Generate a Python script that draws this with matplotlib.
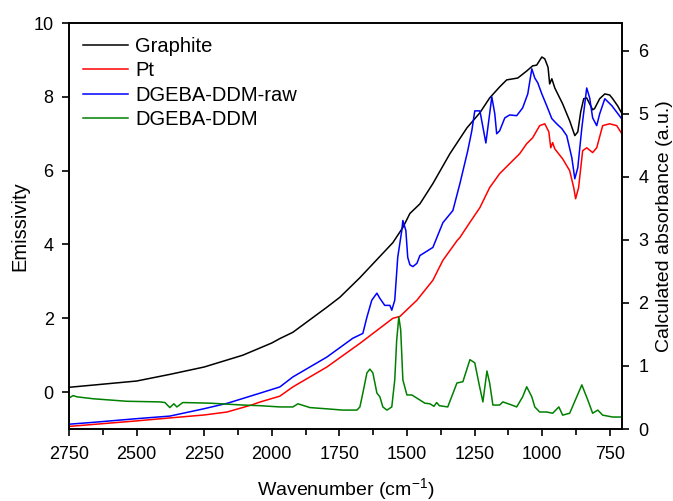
import numpy as np
import matplotlib
matplotlib.use("Agg")
import matplotlib.pyplot as plt
from matplotlib.ticker import MultipleLocator

plt.rcParams["font.family"] = ["Liberation Sans", "DejaVu Sans"]
plt.rcParams["mathtext.default"] = "regular"

# Graphite emissivity (left axis)
wn_graphite = [2750, 2661, 2500, 2377, 2250, 2107, 2000, 1970, 1922, 1796, 1748,
               1674, 1552, 1515, 1489, 1452, 1404, 1341, 1278, 1230, 1194, 1157,
               1131, 1090, 1057, 1035, 1020, 1001, 990, 978, 972, 964, 953, 924,
               898, 879, 868, 857, 846, 835, 813, 806, 787, 768, 750, 739, 720, 705]
em_graphite = [0.13, 0.19, 0.30, 0.48, 0.68, 1.00, 1.33, 1.45, 1.62, 2.30, 2.57,
               3.10, 4.05, 4.46, 4.84, 5.10, 5.65, 6.46, 7.16, 7.57, 7.97, 8.27,
               8.46, 8.51, 8.70, 8.84, 8.86, 9.08, 9.03, 8.80, 8.35, 8.49, 8.24, 7.81,
               7.35, 6.95, 7.05, 7.60, 7.95, 7.97, 7.65, 7.68, 7.95, 8.08, 8.05, 7.95, 7.75, 7.55]

# Pt emissivity (left axis)
wn_pt = [2750, 2500, 2377, 2250, 2166, 2075, 2044, 1970, 1922, 1796, 1674, 1552,
         1526, 1463, 1404, 1367, 1315, 1304, 1267, 1230, 1194, 1157, 1120, 1083,
         1057, 1035, 1009, 990, 975, 968, 961, 953, 924, 898, 883, 876, 865, 850,
         835, 813, 798, 776, 750, 724, 705]
em_pt = [-0.93, -0.78, -0.70, -0.62, -0.54, -0.35, -0.27, -0.11, 0.14, 0.68, 1.32, 2.00,
         2.05, 2.49, 3.03, 3.57, 4.10, 4.19, 4.60, 5.00, 5.54, 5.92, 6.19, 6.46,
         6.73, 6.89, 7.22, 7.27, 7.05, 6.62, 6.76, 6.59, 6.32, 6.00, 5.54, 5.24, 5.54, 6.54,
         6.62, 6.49, 6.62, 7.22, 7.27, 7.22, 7.00]

# DGEBA-DDM raw emissivity (left axis)
wn_raw = [2750, 2661, 2500, 2377, 2250, 2163, 2044, 1970, 1922, 1796, 1700, 1663,
          1648, 1630, 1611, 1600, 1582, 1563, 1556, 1545, 1534, 1519, 1515, 1504,
          1497, 1489, 1478, 1463, 1452, 1404, 1367, 1330, 1304, 1275, 1260, 1249,
          1230, 1208, 1194, 1186, 1175, 1168, 1157, 1138, 1120, 1094, 1072, 1053,
          1038, 1027, 1016, 1001, 983, 964, 946, 927, 909, 890, 879, 868, 853, 835,
          824, 813, 798, 787, 768, 742, 705]
em_raw = [-0.87, -0.82, -0.72, -0.65, -0.45, -0.30, -0.03, 0.14, 0.41, 0.95, 1.46, 1.59,
          2.03, 2.49, 2.68, 2.54, 2.35, 2.35, 2.22, 2.49, 3.65, 4.38, 4.65, 4.38,
          3.65, 3.45, 3.40, 3.49, 3.70, 3.92, 4.59, 4.92, 5.65, 6.54, 7.08, 7.62,
          7.62, 6.75, 7.54, 8.00, 7.54, 7.00, 7.08, 7.43, 7.51, 7.49, 7.70, 8.08,
          8.76, 8.51, 8.38, 8.08, 7.76, 7.41, 7.27, 7.14, 6.95, 6.35, 5.78, 6.08, 7.16, 8.24,
          7.97, 7.43, 7.22, 7.54, 7.95, 7.76, 7.40]

# DGEBA-DDM calculated absorbance (right axis)
wn_abs = [2750, 2735, 2720, 2661, 2536, 2414, 2395, 2377, 2362, 2351, 2329, 2229,
          2107, 2044, 1970, 1922, 1903, 1859, 1796, 1737, 1685, 1674, 1663, 1648,
          1637, 1626, 1611, 1600, 1589, 1574, 1556, 1545, 1538, 1530, 1523, 1515,
          1500, 1482, 1463, 1434, 1415, 1400, 1390, 1380, 1349, 1315, 1293, 1267,
          1249, 1234, 1219, 1204, 1194, 1182, 1157, 1145, 1112, 1094, 1072, 1057,
          1038, 1027, 1009, 983, 961, 938, 924, 898, 872, 853, 831, 813, 794, 776,
          739, 705]
abs_ddm = [0.49, 0.53, 0.51, 0.48, 0.44, 0.43, 0.42, 0.34, 0.40, 0.35, 0.42, 0.41,
           0.38, 0.37, 0.35, 0.35, 0.40, 0.34, 0.32, 0.30, 0.30, 0.35, 0.57, 0.89,
           0.95, 0.89, 0.57, 0.51, 0.35, 0.30, 0.35, 0.78, 1.40, 1.78, 1.57, 0.78,
           0.54, 0.54, 0.49, 0.41, 0.40, 0.36, 0.42, 0.37, 0.35, 0.73, 0.75, 1.10,
           1.05, 0.73, 0.43, 0.92, 0.73, 0.38, 0.38, 0.43, 0.38, 0.35, 0.51, 0.67,
           0.51, 0.35, 0.27, 0.27, 0.25, 0.35, 0.22, 0.25, 0.51, 0.70, 0.46, 0.25, 0.30, 0.22,
           0.19, 0.19]

fig = plt.figure(figsize=(6.73, 5.01), dpi=100)
ax = fig.add_axes([0.1025, 0.1437, 0.8215, 0.8103])
ax2 = ax.twinx()

l1, = ax.plot(wn_graphite, em_graphite, color="black", lw=1.1, label="Graphite")
l2, = ax.plot(wn_pt, em_pt, color="#ff0000", lw=1.1, label="Pt")
l3, = ax.plot(wn_raw, em_raw, color="#0000ff", lw=1.1, label="DGEBA-DDM-raw")
l4, = ax2.plot(wn_abs, abs_ddm, color="#008000", lw=1.1, label="DGEBA-DDM")

ax.set_xlim(2750, 705)
ax.set_ylim(-1, 10)
ax2.set_ylim(0, 6.44)

ax.xaxis.set_major_locator(MultipleLocator(250))
ax.xaxis.set_minor_locator(MultipleLocator(125))
ax.yaxis.set_major_locator(MultipleLocator(2))
ax2.yaxis.set_major_locator(MultipleLocator(1))

for a in (ax, ax2):
    for s in a.spines.values():
        s.set_linewidth(1.2)
    a.tick_params(which="major", direction="out", length=5, width=1.2, labelsize=13)
    a.tick_params(which="minor", direction="out", length=4, width=1.2)
ax.tick_params(axis="x", which="major", pad=7.5)
ax.tick_params(axis="y", which="major", pad=6)
ax2.tick_params(axis="y", which="major", pad=7)

ax.set_xlabel("Wavenumber (cm$^{-1}$)", fontsize=14, labelpad=9)
ax.set_ylabel("Emissivity", fontsize=14.5, labelpad=3)
ax2.set_ylabel("Calculated absorbance (a.u.)", fontsize=14, labelpad=5)

ax.legend(handles=[l1, l2, l3, l4], loc="upper left", frameon=False, fontsize=14.5,
          handlelength=2.25, handletextpad=0.35, labelspacing=0.26,
          borderaxespad=0.4, borderpad=0.3)

fig.savefig("out.png", dpi=100)
